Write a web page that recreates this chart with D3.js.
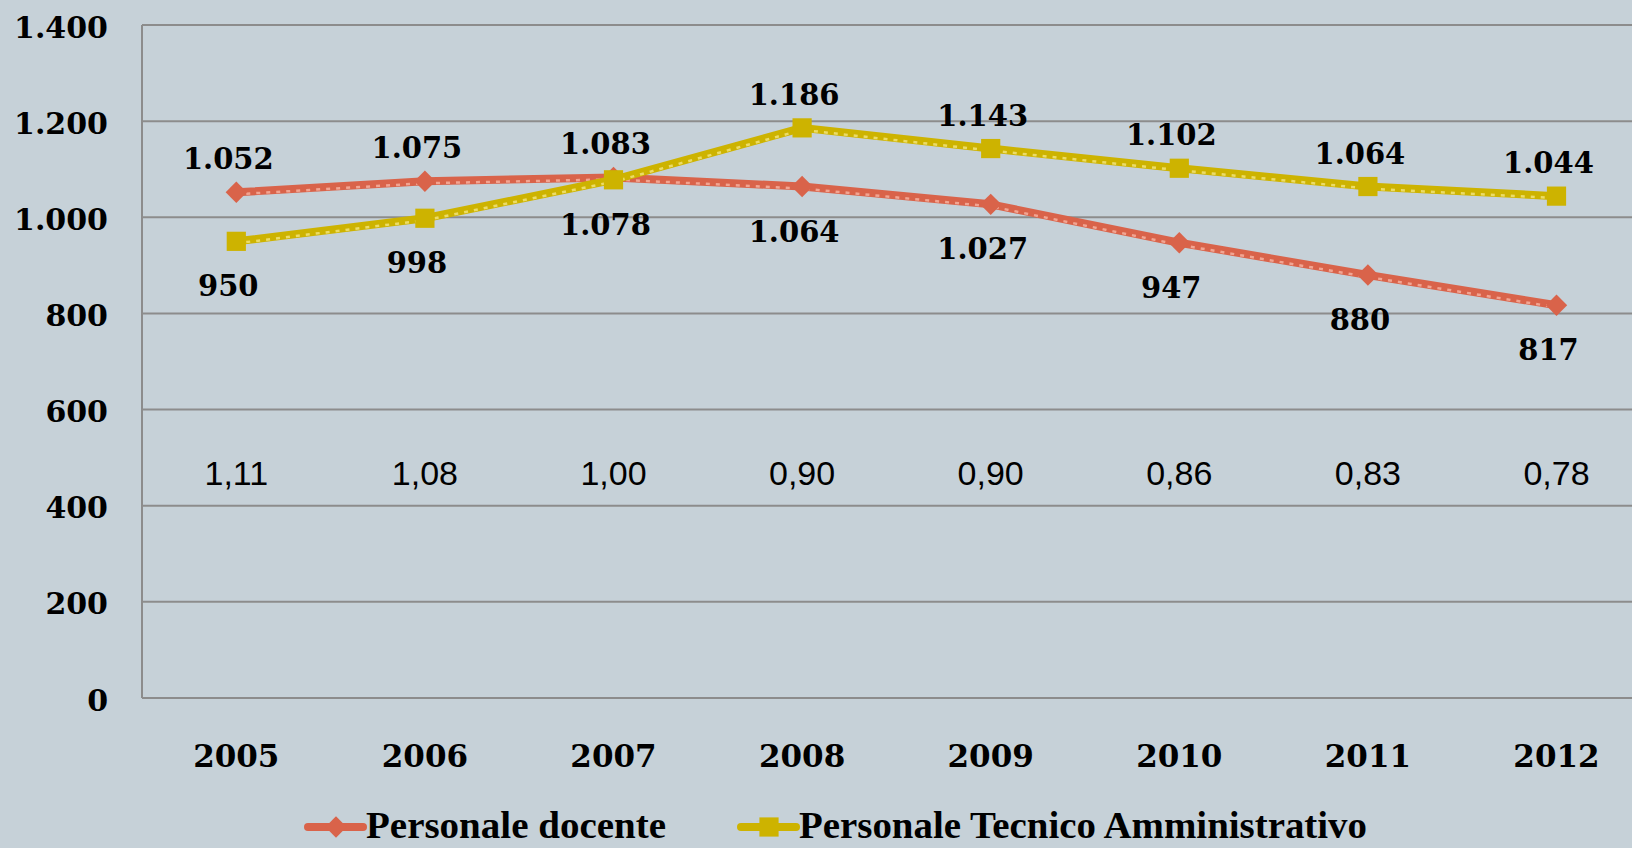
<!DOCTYPE html>
<html>
<head>
<meta charset="utf-8">
<script src="https://cdn.jsdelivr.net/npm/d3@7"></script>
<style>
  html, body { margin: 0; padding: 0; background: #c6d1d8; overflow: hidden; }
  svg { display: block; }
</style>
</head>
<body>
<svg id="chart" width="1632" height="848"></svg>
<script>
// Data
const years = ["2005", "2006", "2007", "2008", "2009", "2010", "2011", "2012"];
const docente = [1052, 1075, 1083, 1064, 1027, 947, 880, 817];
const tecnico = [950, 998, 1078, 1186, 1143, 1102, 1064, 1044];
const ratios = ["1,11", "1,08", "1,00", "0,90", "0,90", "0,86", "0,83", "0,78"];
const yTicks = [0, 200, 400, 600, 800, 1000, 1200, 1400];

const SERIF = "'DejaVu Serif', 'Liberation Serif', serif";
const SANS = "'Liberation Sans', Arial, sans-serif";
const RED = "#d9634a", RED_LIGHT = "#f2a592";
const YELLOW = "#cdb300", YELLOW_LIGHT = "#ecdc66";

const PLOT_LEFT = 142, PLOT_TOP = 25, PLOT_BOTTOM = 698, BAND_W = 188.6;

const itFormat = d3.formatLocale({ decimal: ",", thousands: ".", grouping: [3], currency: ["", "€"] }).format(",d");

const svg = d3.select("#chart");

const x = d3.scaleBand().domain(years).range([PLOT_LEFT, PLOT_LEFT + BAND_W * years.length]);
const y = d3.scaleLinear().domain([0, 1400]).range([PLOT_BOTTOM, PLOT_TOP]);
const cx = d => x(d) + x.bandwidth() / 2;

// gridlines
svg.append("g")
  .selectAll("line")
  .data(yTicks)
  .enter()
  .append("line")
  .attr("x1", PLOT_LEFT).attr("x2", 1632)
  .attr("y1", d => y(d)).attr("y2", d => y(d))
  .attr("stroke", "#8c8c8c")
  .attr("stroke-width", 2);

// left axis
svg.append("line")
  .attr("x1", PLOT_LEFT).attr("x2", PLOT_LEFT)
  .attr("y1", y(1400)).attr("y2", y(0))
  .attr("stroke", "#8c8c8c")
  .attr("stroke-width", 2);

// y tick labels
svg.append("g")
  .selectAll("text")
  .data(yTicks)
  .enter()
  .append("text")
  .attr("x", 108)
  .attr("y", d => y(d) + 2)
  .attr("text-anchor", "end")
  .attr("dominant-baseline", "central")
  .attr("font-family", SERIF)
  .attr("font-weight", "bold")
  .attr("font-size", 30)
  .attr("fill", "#000")
  .text(d => itFormat(d));

// year labels
svg.append("g")
  .selectAll("text")
  .data(years)
  .enter()
  .append("text")
  .attr("x", d => cx(d))
  .attr("y", 767)
  .attr("text-anchor", "middle")
  .attr("font-family", SERIF)
  .attr("font-weight", "bold")
  .attr("font-size", 31)
  .attr("fill", "#000")
  .text(d => d);

// ratio row
svg.append("g")
  .selectAll("text")
  .data(ratios)
  .enter()
  .append("text")
  .attr("x", (d, i) => cx(years[i]))
  .attr("y", 485)
  .attr("text-anchor", "middle")
  .attr("font-family", SANS)
  .attr("font-size", 34)
  .attr("fill", "#000")
  .text(d => d);

const line = d3.line()
  .x((d, i) => cx(years[i]))
  .y(d => y(d));

function markerPath(kind) {
  return kind === "diamond"
    ? d3.symbol().type(d3.symbolSquare2).size(290)()
    : d3.symbol().type(d3.symbolSquare2).size(470)();
}

function drawSeries(values, color, light, marker) {
  const g = svg.append("g");
  g.append("path")
    .attr("d", line(values))
    .attr("fill", "none")
    .attr("stroke", color)
    .attr("stroke-width", 8)
    .attr("stroke-linejoin", "round");
  g.append("path")
    .attr("d", line(values))
    .attr("transform", "translate(0,2)")
    .attr("fill", "none")
    .attr("stroke", light)
    .attr("stroke-width", 2.5)
    .attr("stroke-dasharray", "4,6");
  g.selectAll(".m")
    .data(values)
    .enter()
    .append("path")
    .attr("d", markerPath(marker))
    .attr("transform", (d, i) => `translate(${cx(years[i])},${y(d)})` + (marker === "diamond" ? " rotate(45)" : ""))
    .attr("fill", color);
}

drawSeries(docente, RED, RED_LIGHT, "diamond");
drawSeries(tecnico, YELLOW, YELLOW_LIGHT, "square");

// data labels: the higher series of each year gets its label above
function drawLabels(values, other) {
  svg.append("g")
    .selectAll("text")
    .data(values)
    .enter()
    .append("text")
    .attr("x", (d, i) => cx(years[i]) - 8)
    .attr("y", (d, i) => y(d) + (d > other[i] ? -33 : 45))
    .attr("text-anchor", "middle")
    .attr("dominant-baseline", "central")
    .attr("font-family", SERIF)
    .attr("font-weight", "bold")
    .attr("font-size", 29)
    .attr("fill", "#000")
    .text(d => itFormat(d));
}
drawLabels(docente, tecnico);
drawLabels(tecnico, docente);

// legend
const legend = [
  { name: "Personale docente", color: RED, marker: "diamond", x: 308, w: 300 },
  { name: "Personale Tecnico Amministrativo", color: YELLOW, marker: "square", x: 741, w: 568 }
];
const lg = svg.append("g");
legend.forEach(l => {
  lg.append("line")
    .attr("x1", l.x).attr("x2", l.x + 55)
    .attr("y1", 827).attr("y2", 827)
    .attr("stroke", l.color)
    .attr("stroke-width", 8)
    .attr("stroke-linecap", "round");
  lg.append("path")
    .attr("d", markerPath(l.marker))
    .attr("transform", `translate(${l.x + 28},827)` + (l.marker === "diamond" ? " rotate(45)" : ""))
    .attr("fill", l.color);
  lg.append("text")
    .attr("x", l.x + 58)
    .attr("y", 838)
    .attr("font-family", "'Liberation Serif', serif")
    .attr("font-weight", "bold")
    .attr("font-size", 38)
    .attr("textLength", l.w)
    .attr("lengthAdjust", "spacingAndGlyphs")
    .attr("fill", "#000")
    .text(l.name);
});
</script>
</body>
</html>
